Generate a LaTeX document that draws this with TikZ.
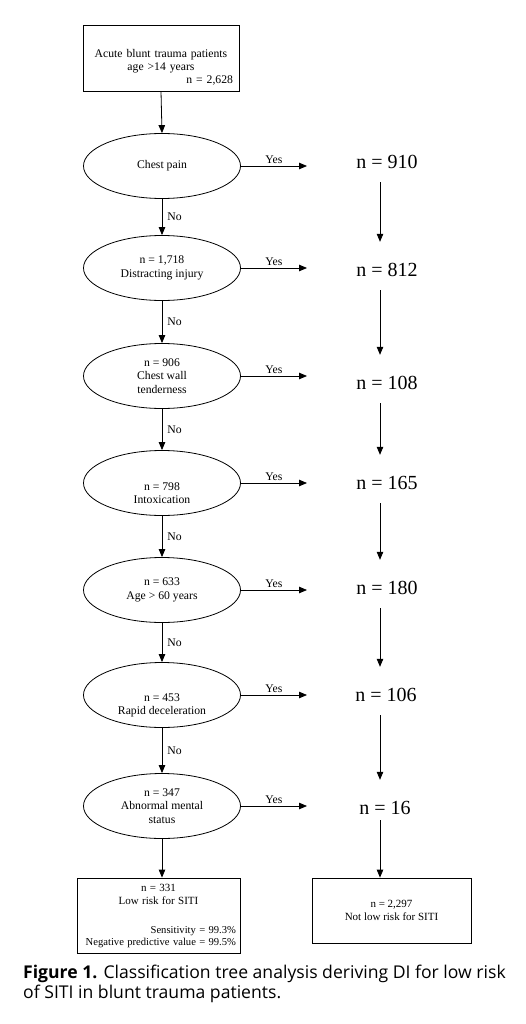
\documentclass[tikz,border=0pt]{standalone}
\usepackage{fontspec}
\setmainfont{Liberation Serif}
\newfontfamily\capfont{Open Sans}
\usetikzlibrary{shapes.geometric,arrows.meta}

\tikzset{
  arr/.style={-{Triangle[length=8pt,width=6.5pt]}, line width=0.8pt},
  test/.style={draw, ellipse, line width=0.8pt, minimum width=157pt, minimum height=65pt,
    inner sep=0pt, align=center, font=\fontsize{11.7}{13.5}\selectfont},
  box/.style={draw, rectangle, line width=0.8pt, inner sep=0pt, align=center},
  count/.style={font=\fontsize{20}{24}\selectfont, inner sep=0pt, minimum height=24pt},
  lbl/.style={font=\fontsize{11.7}{14}\selectfont, inner sep=2pt},
  step2/.style={arr, shorten <=8pt, shorten >=16pt},
}
\newcommand{\lowstrut}{\rule{0pt}{28pt}}

\begin{document}
\begin{tikzpicture}[x=1pt,y=-1pt]
  \useasboundingbox (0,0) rectangle (526,1024);

  % Eingang
  \node[box, minimum width=156pt, minimum height=66pt, text width=144pt,
    font=\fontsize{11.7}{13}\selectfont] (start) at (161,58)
    {\rule{0pt}{27pt}Acute blunt trauma patients\\ age >14 years\\ \hfill n = 2,628};

  % Fragen
  \node[test] (e1) at (162,166) {Chest pain};
  \node[test] (e2) at (162,268) {n = 1,718\\ Distracting injury};
  \node[test] (e3) at (162,376) {n = 906\\ Chest wall\\ tenderness};
  \node[test] (e4) at (162,483) {\lowstrut n = 798\\ Intoxication};
  \node[test] (e5) at (162,590) {n = 633\\ Age > 60 years};
  \node[test] (e6) at (162,695) {\lowstrut n = 453\\ Rapid deceleration};
  \node[test] (e7) at (162,806) {n = 347\\ Abnormal mental\\ status};

  % Ergebnisse
  \node[box, minimum width=163pt, minimum height=75pt, text width=155pt] (low) at (158.5,915.5)
    {\fontsize{11}{13}\selectfont n = 331\\ Low risk for SITI\\[16pt]
     \fontsize{10.6}{13}\selectfont \hfill Sensitivity = 99.3\%\\
     \hfill Negative predictive value = 99.5\%};
  \node[box, minimum width=159pt, minimum height=65pt, font=\fontsize{11}{13}\selectfont]
    (notlow) at (391.5,910.5) {n = 2,297\\ Not low risk for SITI};

  % Zahlen rechts
  \node[count] (c1) at (387,162) {n = 910};
  \node[count] (c2) at (387,270) {n = 812};
  \node[count] (c3) at (387,383) {n = 108};
  \node[count] (c4) at (387,483) {n = 165};
  \node[count] (c5) at (387,588) {n = 180};
  \node[count] (c6) at (386,695) {n = 106};
  \node[count] (c7) at (385,808) {n = 16};

  \coordinate (yesend) at (307,0);
  \coordinate (colx) at (380,0);

  % Pfeile
  \draw[arr] (start.south) -- (e1.north);
  \foreach \a/\b in {e1/e2,e2/e3,e3/e4,e4/e5,e5/e6,e6/e7}
    \draw[arr] (\a.south) -- (\b.north) node[midway, right, lbl, xshift=3pt] {No};
  \draw[arr] (e7.south) -- (e7.south |- low.north);

  \foreach \e in {e1,e2,e3,e4,e5,e6,e7}
    \draw[arr] (\e.east) -- (\e.east -| yesend) node[midway, above, lbl] {Yes};

  \foreach \a/\b in {c1/c2,c2/c3,c3/c4,c4/c5,c5/c6,c6/c7}
    \draw[step2] (\a.south -| colx) -- (\b.north -| colx);
  \draw[arr] (c7.south -| colx) -- (notlow.north -| colx);

  % Bildunterschrift
  \node[anchor=north west, inner sep=0pt, align=left, font=\capfont\fontsize{17.6}{20}\selectfont]
    (cap) at (23,965) {\textbf{Figure 1.} Classification tree analysis deriving DI for low risk\\
    of SITI in blunt trauma patients.};
\end{tikzpicture}
\end{document}
